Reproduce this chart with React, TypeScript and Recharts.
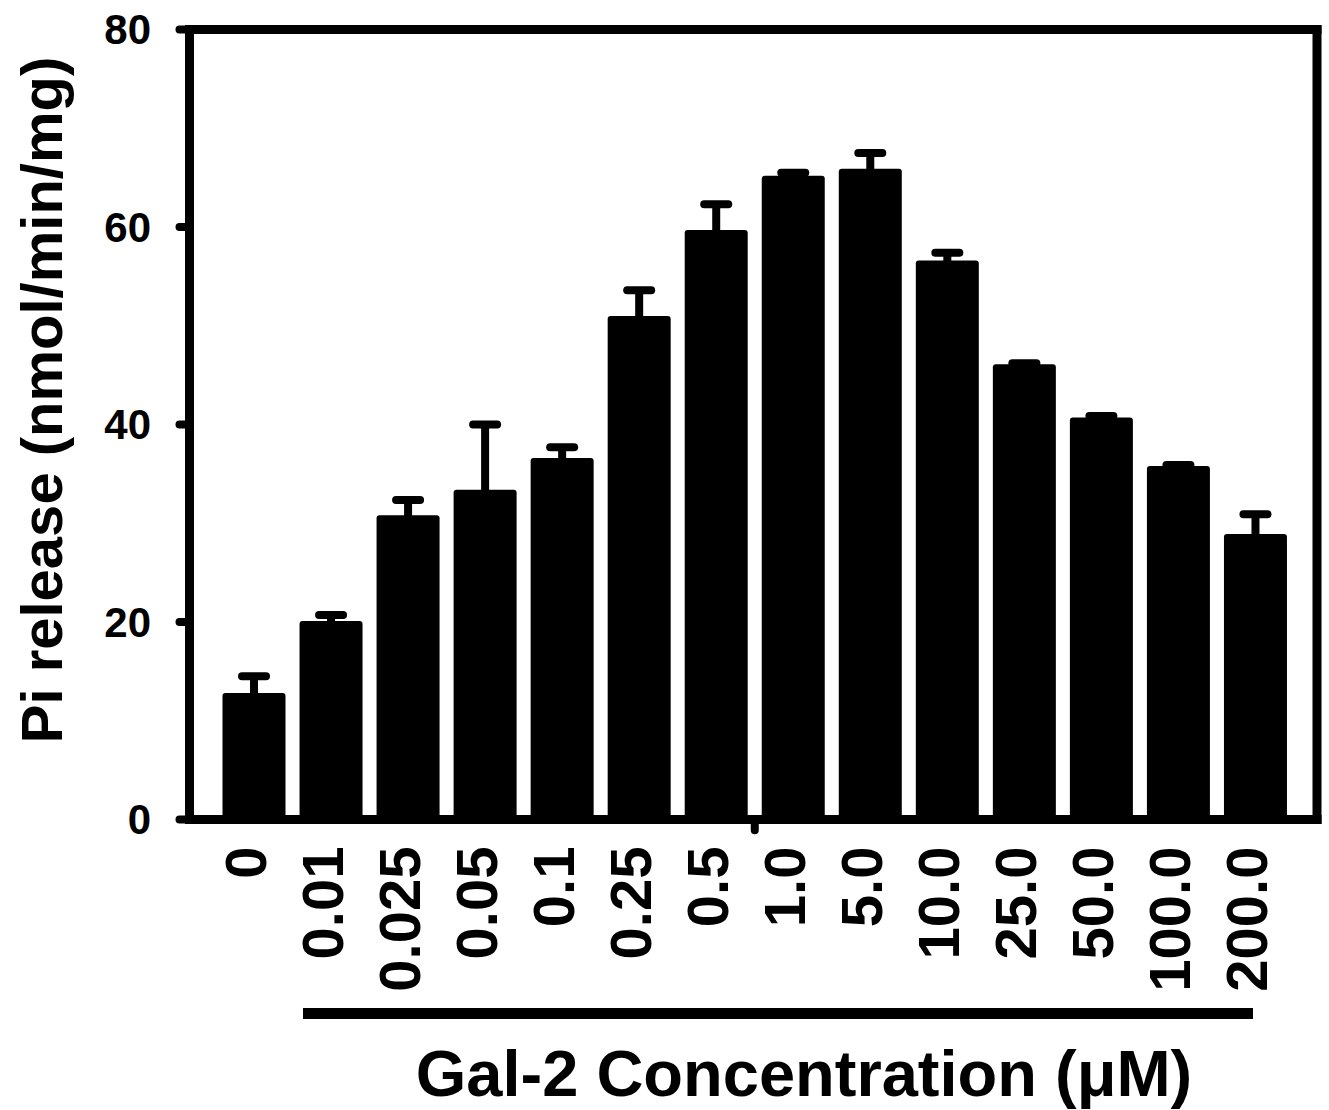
import React from 'react';
import { BarChart, Bar, XAxis, YAxis, Label, ReferenceLine } from 'recharts';

const concentrations = ['0', '0.01', '0.025', '0.05', '0.1', '0.25', '0.5', '1.0', '5.0', '10.0', '25.0', '50.0', '100.0', '200.0'];
const piRelease = [12.8, 20.1, 30.8, 33.4, 36.6, 51.0, 59.7, 65.2, 65.9, 56.6, 46.1, 40.7, 35.8, 28.9];
const piReleaseSem = [1.7, 0.6, 1.55, 6.6, 1.1, 2.6, 2.6, 0.3, 1.6, 0.8, 0.1, 0.15, 0.1, 2.0];
const yTicks = [0, 20, 40, 60, 80];
const yMax = 80;
const boundaryCategory = '1.0';
const lastCategory = concentrations[concentrations.length - 1];

const data = concentrations.map((c, i) => ({ conc: c, value: piRelease[i], sem: piReleaseSem[i] }));

const FONT = "'Liberation Sans', Arial, Helvetica, sans-serif";

const BarWithError = (props: any) => {
  const { x, y, width, height, payload } = props;
  if (!payload || !height) return null;
  const pxPerUnit = height / payload.value;
  const errPx = payload.sem * pxPerUnit;
  const cx = x + width / 2;
  const capY = y - errPx;
  return (
    <g>
      <rect x={x} y={y} width={width} height={height} rx={3} ry={3} fill="#000" />
      <line x1={cx} x2={cx} y1={y + 2} y2={capY} stroke="#000" strokeWidth={8} />
      <line x1={cx - 12} x2={cx + 12} y1={capY} y2={capY} stroke="#000" strokeWidth={8} strokeLinecap="round" />
    </g>
  );
};

const XTick = (props: any) => {
  const { x, y, payload } = props;
  const ay = y + 27;
  return (
    <text
      x={x}
      y={ay}
      dy={12}
      textAnchor="end"
      transform={`rotate(-90, ${x}, ${ay})`}
      fontFamily={FONT}
      fontWeight="bold"
      fontSize={58}
      fill="#000"
    >
      {payload.value}
    </text>
  );
};

const XTitle = () => (
  <g>
    <line x1={303} x2={1253} y1={1013.5} y2={1013.5} stroke="#000" strokeWidth={11} />
    <text x={804} y={1096} textAnchor="middle" fontFamily={FONT} fontWeight="bold" fontSize={65} fill="#000">
      Gal-2 Concentration (μM)
    </text>
  </g>
);

const YTitle = () => (
  <text
    x={62}
    y={400}
    textAnchor="middle"
    transform="rotate(-90, 62, 400)"
    fontFamily={FONT}
    fontWeight="bold"
    fontSize={58}
    fill="#000"
  >
    Pi release (nmol/min/mg)
  </text>
);

const axisLineStyle = { stroke: '#000', strokeWidth: 9, strokeLinecap: 'square' as const };

export default function App() {
  return (
    <div style={{ position: 'absolute', left: 0, top: 0, width: 1329, height: 1110, background: '#fff' }}>
      <BarChart
        width={1329}
        height={1110}
        data={data}
        margin={{ top: 29.5, right: 12, bottom: 0, left: 0 }}
        style={{ fontFamily: FONT }}
      >
        <XAxis
          dataKey="conc"
          type="category"
          interval={0}
          height={290.5}
          padding={{ left: 26, right: 23 }}
          tickLine={false}
          tickSize={0}
          tickMargin={0}
          tick={<XTick />}
          axisLine={axisLineStyle}
        >
          <Label content={<XTitle />} />
        </XAxis>
        <XAxis xAxisId="frame" dataKey="conc" type="category" hide />
        <YAxis
          type="number"
          domain={[0, yMax]}
          ticks={yTicks}
          interval={0}
          width={189.5}
          tickSize={10}
          tickMargin={28.5}
          tickLine={{ stroke: '#000', strokeWidth: 8, strokeLinecap: 'round' }}
          axisLine={axisLineStyle}
          tick={{ fill: '#000', fontSize: 42, fontWeight: 'bold', fontFamily: FONT }}
        >
          <Label content={<YTitle />} />
        </YAxis>
        <Bar dataKey="value" barSize={63} shape={BarWithError} isAnimationActive={false} />
        <ReferenceLine y={yMax} ifOverflow="visible" stroke="#000" strokeWidth={9} strokeLinecap="square" />
        <ReferenceLine
          xAxisId="frame"
          x={lastCategory}
          position="end"
          ifOverflow="visible"
          stroke="#000"
          strokeWidth={9}
          strokeLinecap="square"
        />
        <ReferenceLine
          segment={[{ x: boundaryCategory, y: 0 }, { x: boundaryCategory, y: -1.1 }]}
          position="start"
          ifOverflow="visible"
          stroke="#000"
          strokeWidth={8}
          strokeLinecap="round"
        />
      </BarChart>
    </div>
  );
}
